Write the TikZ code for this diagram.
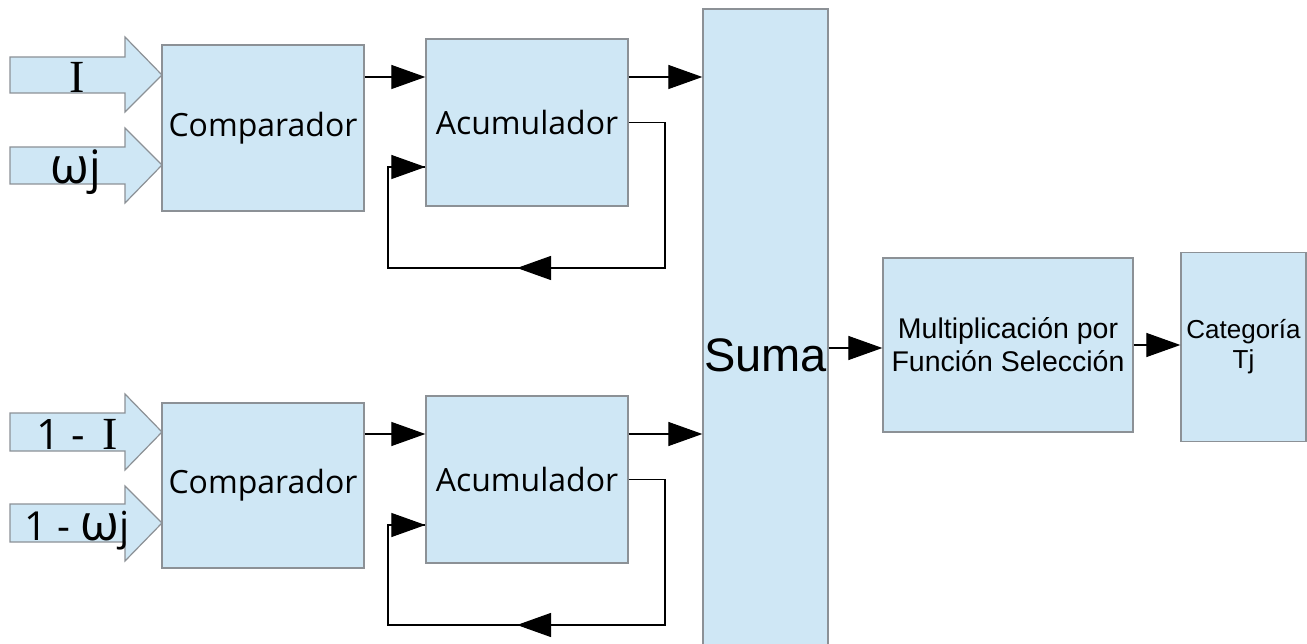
\documentclass[tikz,border=0pt]{standalone}
\usepackage{fontspec}
\setmainfont{Open Sans}
\newfontfamily\arialfont{Liberation Sans}
\newfontfamily\romanfont{Liberation Serif}
\usetikzlibrary{arrows.meta}

\definecolor{boxfill}{RGB}{207,231,245}
\definecolor{boxline}{RGB}{140,145,150}

\tikzset{
  block/.style={draw=boxline, fill=boxfill, line width=1.3pt, inner sep=0pt, align=center},
  blocktext/.style={font=\fontsize{32}{38}\selectfont},
  inarrow/.style={draw=boxline, fill=boxfill, line width=1.2pt, line join=miter},
  arr/.style={line width=1.2pt, -{Triangle[length=34pt,width=24pt]}},
  wire/.style={line width=1.2pt},
  lbl/.style={inner sep=0pt, anchor=base}
}

\newcommand{\omegaj}[1]{{\fontsize{50}{50}\selectfont ω}{\fontsize{#1}{#1}\selectfont j}}

\begin{document}
\begin{tikzpicture}[x=1pt, y=-1pt]
\useasboundingbox (0,0) rectangle (1307,644);

% input arrows (shaft + head outlines)
\draw[inarrow] (10,57) -- (125,57) -- (125,37) -- (162,75) -- (125,112) -- (125,93) -- (10,93) -- cycle;
\draw[inarrow] (10,147) -- (125,147) -- (125,128) -- (162,165) -- (125,203) -- (125,184) -- (10,184) -- cycle;
\draw[inarrow] (10,413) -- (125,413) -- (125,394) -- (162,432) -- (125,470) -- (125,451) -- (10,451) -- cycle;
\draw[inarrow] (10,504) -- (125,504) -- (125,486) -- (162,523) -- (125,561) -- (125,542) -- (10,542) -- cycle;

\node[lbl] (inI) at (77,93) {\romanfont\fontsize{46}{46}\selectfont I};
\node[lbl] (inW) at (76,184) {\omegaj{46}};
\node[lbl] (inNI) at (77,449) {\fontsize{42}{42}\selectfont 1 -\, {\romanfont\fontsize{46}{46}\selectfont I}};
\node[lbl] (inNW) at (77,540) {\fontsize{40}{40}\selectfont 1 - \omegaj{40}};

% processing blocks
\node[block, blocktext, minimum width=202pt, minimum height=166pt] (comp1) at (263,128) {Comparador};
\node[block, blocktext, minimum width=202pt, minimum height=165pt] (comp2) at (263,485.5) {Comparador};
\node[block, blocktext, minimum width=202pt, minimum height=167pt] (acum1) at (527,122.5) {Acumulador};
\node[block, blocktext, minimum width=202pt, minimum height=167pt] (acum2) at (527,479.5) {Acumulador};
\node[block, minimum width=125pt, minimum height=636pt] (suma) at (765.5,327) {};
\node[lbl] (sumatxt) at (765.5,372) {\arialfont\fontsize{47}{47}\selectfont Suma};
\node[block, minimum width=250pt, minimum height=174pt,
      font=\arialfont\fontsize{28.5}{33}\selectfont] (mult) at (1008,345)
      {Multiplicación por\\Función Selección};
\node[block, minimum width=125pt, minimum height=189pt,
      font=\arialfont\fontsize{26}{30}\selectfont] (cat) at (1243.5,347)
      {Categoría\\Tj};

% upper branch
\draw[arr] (comp1.east |- 0,77) -- (acum1.west |- 0,77);
\draw[arr] (acum1.east |- 0,77) -- (suma.west |- 0,77);
\coordinate (fb1r) at (665,268);
\coordinate (fb1l) at (388,268);
\draw[wire] (acum1.east) -| (fb1r) -- (fb1l) |- (acum1.west |- 0,167);
\draw[arr] (fb1l |- 0,167) -- (acum1.west |- 0,167);
\draw[arr] (fb1r) -- (517,268);

% lower branch
\draw[arr] (comp2.east |- 0,434) -- (acum2.west |- 0,434);
\draw[arr] (acum2.east |- 0,434) -- (suma.west |- 0,434);
\coordinate (fb2r) at (665,625);
\coordinate (fb2l) at (388,625);
\draw[wire] (acum2.east) -| (fb2r) -- (fb2l) |- (acum2.west |- 0,525);
\draw[arr] (fb2l |- 0,525) -- (acum2.west |- 0,525);
\draw[arr] (fb2r) -- (517,625);

% output chain
\draw[arr] (suma.east |- 0,348) -- (mult.west |- 0,348);
\draw[arr] (mult.east) -- (cat.west |- mult.east);
\end{tikzpicture}
\end{document}
